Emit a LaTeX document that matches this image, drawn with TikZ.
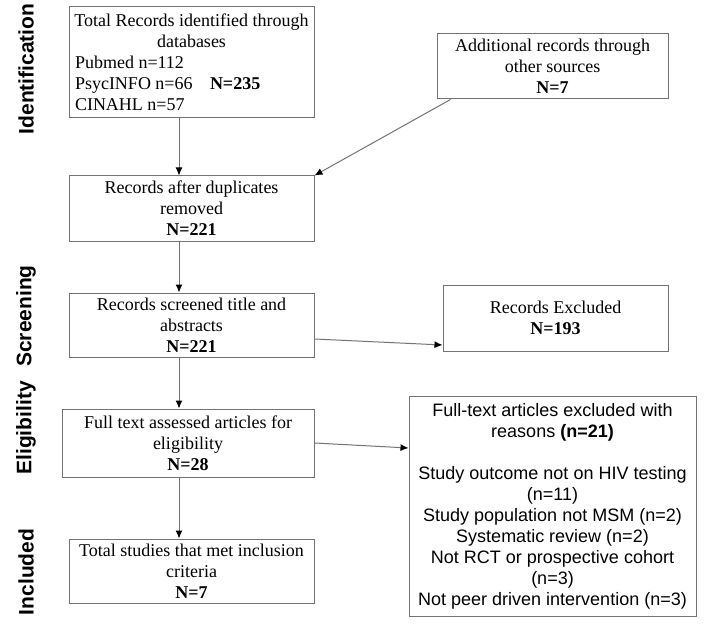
\documentclass[tikz,border=0pt]{standalone}
\usepackage{fontspec}
\setmainfont{Liberation Serif}
\setsansfont{Liberation Sans}
\usepackage{tikz}
\usetikzlibrary{arrows.meta}
\usetikzlibrary{positioning}
\tikzstyle{stage}=[rectangle, draw=black!55, align=center, inner xsep=3pt, inner ysep=1pt, font=\fontsize{9}{10.5}\selectfont]
\tikzstyle{reasons}=[stage, font=\sffamily\fontsize{9}{10.5}\selectfont]
\tikzstyle{phase}=[rotate=90, font=\sffamily\bfseries\fontsize{10.5}{12}\selectfont]
\tikzstyle{flow}=[-{Latex[length=4pt,width=3.5pt,color=black]}, draw=black!55]
\tikzset{every picture/.style={
    line width=0.5pt, x=0.5pt, y=-0.5pt
  }
}

\begin{document}
\begin{tikzpicture}
        \useasboundingbox (0,0) rectangle (704,625);
        % phases
        \node[phase] at (26,69) (identification) {Identification};
        \node[phase] at (26,316) (screening) {Screening};
        \node[phase] at (26,428) (eligibility) {Eligibility};
        \node[phase] at (26,572) (included) {Included};
        % boxes
        \node[stage, align=left, minimum height=55.5pt] at (191.5,62.5) (records) {%
          \makebox[116.5pt][c]{Total Records identified through}\\
          \makebox[116.5pt][c]{databases}\\
          Pubmed n=112\\
          \makebox[67.5pt][l]{PsycINFO n=66}\textbf{N=235}\\
          CINAHL n=57};
        \node[stage, minimum width=115.5pt, minimum height=32.5pt] at (552.5,66.5) (other) {Additional records through\\other sources\\\textbf{N=7}};
        \node[stage, minimum width=122.5pt, minimum height=32.5pt] at (191.5,208.5) (dedup) {Records after duplicates\\removed\\\textbf{N=221}};
        \node[stage, minimum width=122.5pt, minimum height=32pt] at (191.5,325) (screened) {Records screened title and\\abstracts\\\textbf{N=221}};
        \node[stage, minimum width=112.5pt, minimum height=33pt] at (555.5,318) (excluded) {Records Excluded\\\textbf{N=193}};
        \node[stage, minimum width=126pt, minimum height=34pt] at (188,443) (fulltext) {Full text assessed articles for\\eligibility\\\textbf{N=28}};
        \node[stage, minimum width=122.5pt, minimum height=32pt] at (191.5,571) (studies) {Total studies that met inclusion\\criteria\\\textbf{N=7}};
        \node[reasons, minimum width=143.5pt, minimum height=110pt] at (552.5,506) (why) {Full-text articles excluded with\\reasons \textbf{(n=21)}\\[10.5pt]
          Study outcome not on HIV testing\\(n=11)\\Study population not MSM (n=2)\\Systematic review (n=2)\\Not RCT or prospective cohort\\(n=3)\\Not peer driven intervention (n=3)};
        % arrows
        \coordinate (col) at (179,0);
        \draw[flow] (records.south -| col) -- (dedup.north -| col);
        \draw[flow] ([xshift=7pt]other.south west) -- (dedup.north east);
        \draw[flow] (dedup.south -| col) -- (screened.north -| col);
        \draw[flow] ([yshift=-7pt]screened.east) -- ([yshift=-13.5pt]excluded.west);
        \draw[flow] (screened.south -| col) -- (fulltext.north -| col);
        \draw[flow] (fulltext.east) -- ([yshift=29pt]why.west);
        \draw[flow] (fulltext.south -| col) -- (studies.north -| col);
      \end{tikzpicture}
\end{document}
